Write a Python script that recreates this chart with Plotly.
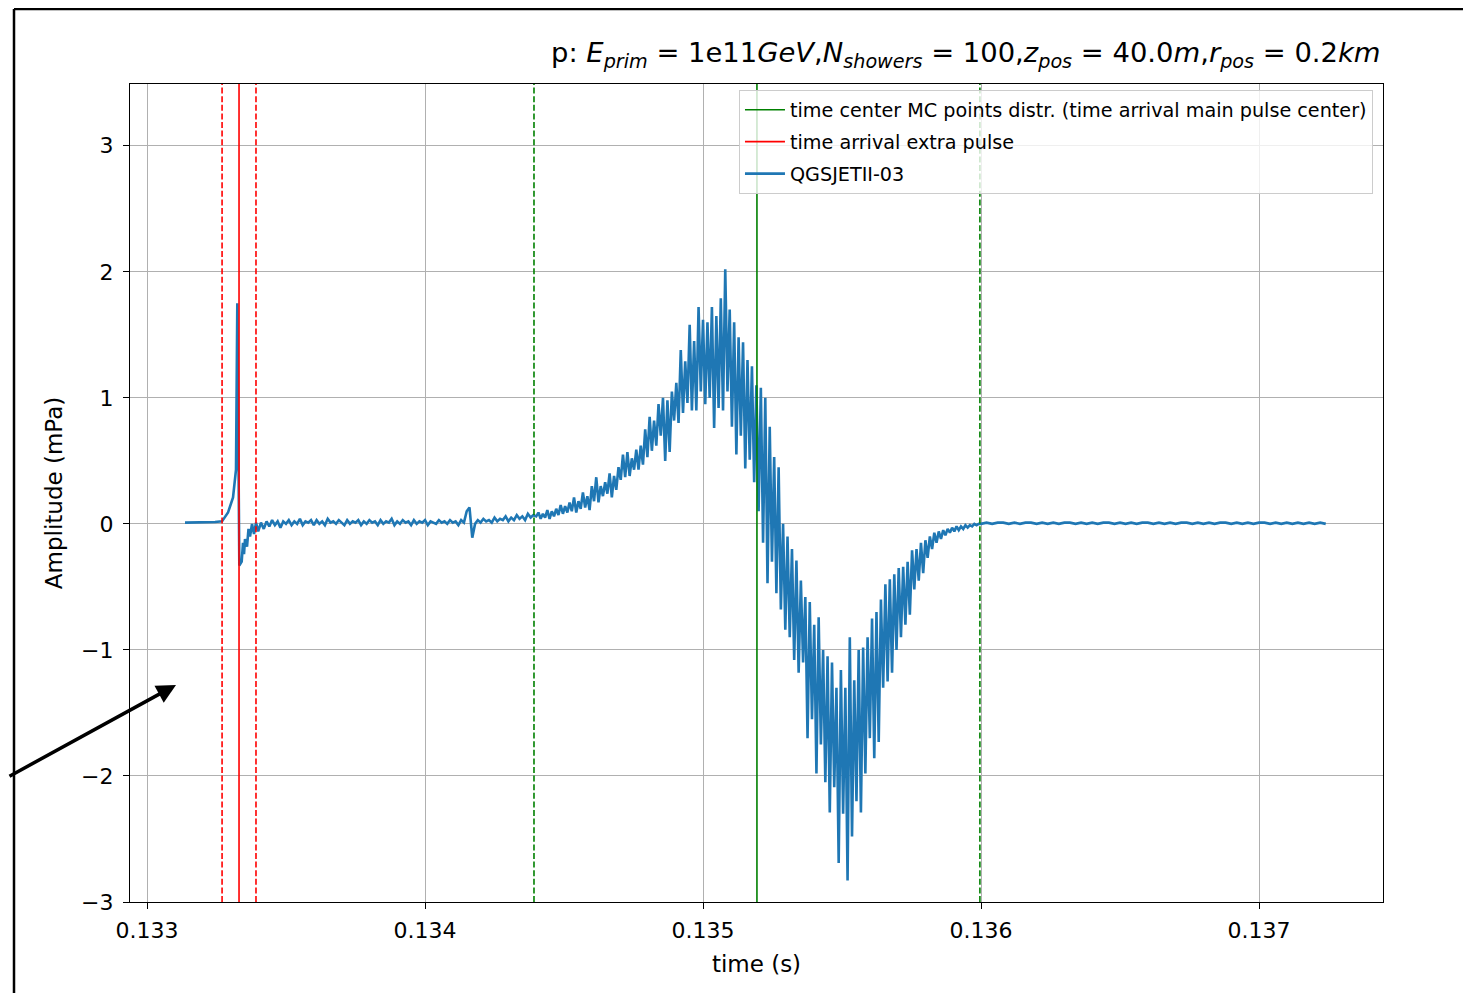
import numpy as np
import plotly.graph_objects as go

# ---------------- data ----------------
# extra pulse region: explicit samples (time in s, amplitude in mPa)
pre_times = [0.1331367, 0.1331906, 0.1332446, 0.1332698, 0.1332914, 0.1333094,
             0.1333201, 0.1333248, 0.1333291, 0.1333320, 0.1333406, 0.1333453,
             0.1333489, 0.1333525, 0.1333597, 0.1333651, 0.1333705, 0.1333777,
             0.1333849, 0.1333921]
pre_amp = [0.01, 0.01, 0.015, 0.02, 0.09, 0.21,
           0.43, 1.75, 0.60, -0.33, -0.30, -0.15,
           -0.24, -0.12, -0.18, -0.04, -0.10, 0.00,
           -0.08, 0.01]

# baseline segment (uniformly sampled)
base_t0 = 0.13340
base_dt = 0.00001
base_amp = [-0.06, 0.01, -0.04, 0.02, -0.02, 0.03, -0.01, 0.02, -0.03, 0.02,
            0.00, 0.03, -0.01, 0.02, 0.00, 0.04, -0.01, 0.02, 0.01, 0.03,
            -0.01, 0.03, 0.00, 0.02, -0.01, 0.04, 0.01, 0.02, 0.00, 0.03,
            0.01, -0.01, 0.03, 0.00, 0.02, 0.01, 0.03, -0.01, 0.02, 0.00,
            0.03, 0.01, 0.02, -0.01, 0.03, 0.00, 0.02, 0.01, 0.04, -0.01,
            0.02, 0.00, 0.03, 0.01, 0.02, -0.01, 0.03, 0.00, 0.02, 0.01,
            0.03, -0.01, 0.02, 0.01, 0.00, 0.03, 0.01, 0.02, 0.00, 0.03,
            0.01, 0.02, -0.01, 0.03, 0.01, 0.10, 0.13, -0.11, 0.00, 0.03,
            0.01, 0.04, 0.02, 0.03, 0.01, 0.05, 0.02, 0.04, 0.03, 0.06,
            0.02, 0.05, 0.03, 0.07, 0.04, 0.06, 0.03, 0.08, 0.05, 0.07]

# main pulse segment (uniformly sampled)
main_t0 = 0.13440
main_dt = 0.000008
main_amp = [0.06, 0.09, 0.04, 0.08, 0.05, 0.11, 0.04, 0.10, 0.06, 0.12,
            0.07, 0.15, 0.08, 0.14, 0.09, 0.17, 0.10, 0.21, 0.09, 0.18,
            0.12, 0.25, 0.13, 0.22, 0.11, 0.30, 0.18, 0.37, 0.17, 0.30,
            0.22, 0.33, 0.24, 0.40, 0.21, 0.38, 0.27, 0.45, 0.35, 0.55,
            0.37, 0.57, 0.38, 0.52, 0.43, 0.59, 0.43, 0.62, 0.47, 0.75,
            0.53, 0.85, 0.58, 0.82, 0.62, 0.95, 0.70, 1.00, 0.50, 0.98,
            0.57, 1.05, 0.82, 1.12, 0.80, 1.38, 0.88, 1.29, 0.96, 1.58,
            0.90, 1.45, 0.90, 1.72, 1.05, 1.62, 0.95, 1.60, 1.00, 1.72,
            0.76, 1.65, 0.92, 1.79, 0.90, 2.02, 1.05, 1.70, 0.77, 1.60,
            0.55, 1.48, 0.70, 1.44, 0.44, 1.30, 0.51, 1.25, 0.33, 1.10,
            0.10, 1.08, -0.15, 1.00, -0.47, 0.77, -0.30, 0.53, -0.55, 0.45,
            -0.68, 0.00, -0.84, -0.10, -0.90, -0.20, -1.08, -0.29, -1.18, -0.45,
            -1.10, -0.58, -1.70, -0.62, -1.55, -0.80, -1.98, -0.74, -1.75, -1.00,
            -2.05, -1.05, -2.29, -1.10, -2.09, -1.30, -2.69, -1.16, -2.30, -1.30,
            -2.83, -0.90, -2.48, -1.24, -2.20, -1.00, -2.29, -0.98, -1.98, -0.90,
            -1.70, -0.75, -1.86, -0.70, -1.73, -0.60, -1.30, -0.48, -1.25, -0.44,
            -1.18, -0.40, -1.00, -0.35, -0.90, -0.34, -0.80, -0.30, -0.72, -0.21,
            -0.52, -0.20, -0.45, -0.15, -0.39, -0.13, -0.27, -0.10, -0.20, -0.07,
            -0.15, -0.06, -0.12, -0.05, -0.09, -0.04, -0.07, -0.03, -0.06, -0.02,
            -0.05, -0.02, -0.04, -0.01, -0.03, -0.01, -0.02, 0.00, -0.01, 0.00]

# tail segment (uniformly sampled)
tail_t0 = 0.13600
tail_dt = 0.00002
tail_amp = [0.00, 0.01, 0.00, 0.01, 0.01, 0.00, 0.01, 0.00, 0.01, 0.01,
            0.00, 0.01, 0.00, 0.01, 0.00, 0.01, 0.01, 0.00, 0.01, 0.00,
            0.01, 0.00, 0.01, 0.01, 0.00, 0.01, 0.00, 0.01, 0.00, 0.01,
            0.01, 0.00, 0.01, 0.00, 0.01, 0.00, 0.01, 0.01, 0.00, 0.01,
            0.00, 0.01, 0.00, 0.01, 0.01, 0.00, 0.01, 0.00, 0.01, 0.00,
            0.01, 0.01, 0.00, 0.01, 0.00, 0.01, 0.00, 0.01, 0.00, 0.01,
            0.00, 0.01, 0.00]

# marker times (s)
extra_pulse_time = 0.133331
extra_pulse_window = [0.133270, 0.133392]
main_pulse_center = 0.135194
main_pulse_window = [0.134392, 0.135996]

x_ticks = [0.133, 0.134, 0.135, 0.136, 0.137]
x_ticklabels = ["0.133", "0.134", "0.135", "0.136", "0.137"]
y_ticks = [-3, -2, -1, 0, 1, 2, 3]
y_ticklabels = ["\u22123", "\u22122", "\u22121", "0", "1", "2", "3"]

series_name = "QGSJETII-03"
green_label = "time center MC points distr. (time arrival main pulse center)"
red_label = "time arrival extra pulse"

# ---------------- build ----------------
t_all = np.concatenate([
    np.array(pre_times),
    base_t0 + base_dt * np.arange(len(base_amp)),
    main_t0 + main_dt * np.arange(len(main_amp)),
    tail_t0 + tail_dt * np.arange(len(tail_amp)),
])
a_all = np.concatenate([pre_amp, base_amp, main_amp, tail_amp])

FONT = "DejaVu Sans"
BLUE = "#1f77b4"

fig = go.Figure()
fig.add_trace(go.Scatter(x=[None], y=[None], mode="lines", name=green_label, legendgroup="g1",
                         line=dict(color="green", width=1.6)))
fig.add_trace(go.Scatter(x=[None], y=[None], mode="lines", name=red_label, legendgroup="g2",
                         line=dict(color="red", width=1.6)))
fig.add_trace(go.Scatter(x=t_all, y=a_all, mode="lines", name=series_name, legendgroup="g3",
                         line=dict(color=BLUE, width=2.6)))

shapes = []
def vline(xv, color, dash):
    shapes.append(dict(type="line", xref="x", yref="paper", x0=xv, x1=xv, y0=0, y1=1,
                       line=dict(color=color, width=1.6, dash=dash), layer="above"))

vline(extra_pulse_time, "red", "solid")
for xv in extra_pulse_window:
    vline(xv, "red", "6px,2.6px")
vline(main_pulse_center, "green", "solid")
for xv in main_pulse_window:
    vline(xv, "green", "6px,2.6px")

# plot area in the screenshot: px 130..1383 horizontally, 84..902 vertically
def px(xp):
    return (xp - 130) / 1253.0
def py(yp):
    return (902 - yp) / 818.0

def pline(x0, y0, x1, y1, color="black", width=2.5, dash="solid"):
    shapes.append(dict(type="line", xref="paper", yref="paper", x0=x0, y0=y0, x1=x1, y1=y1,
                       line=dict(color=color, width=width, dash=dash), layer="above"))

# screenshot surroundings (frame lines)
pline(px(14), py(9), px(1475), py(9))
pline(px(14), py(9), px(14), py(998))
pline(px(398), py(-5), px(398), py(9), width=2)
pline(px(60), py(-5), px(60), py(5), color="green", width=2, dash="dot")

annotations = [
    dict(xref="paper", yref="paper", x=1.0, y=1.0, xanchor="right", yanchor="bottom", yshift=9,
         showarrow=False,
         text=("p: <i>E</i><sub><i>prim</i></sub> = 1e11<i>GeV</i>,<i>N</i><sub><i>showers</i></sub> = 100,"
               "<i>z</i><sub><i>pos</i></sub> = 40.0<i>m</i>,<i>r</i><sub><i>pos</i></sub> = 0.2<i>km</i>"),
         font=dict(family=FONT, size=27.4, color="black")),
    dict(xref="paper", yref="paper", x=px(176), y=py(685), ax=-184, ay=92, text="",
         showarrow=True, arrowhead=2, arrowsize=1.1, arrowwidth=3.5, arrowcolor="black"),
]

axis_common = dict(showline=True, linecolor="black", linewidth=1.3, mirror=True,
                   ticks="outside", ticklen=6, tickwidth=1.3, tickcolor="black",
                   showgrid=True, gridcolor="#b0b0b0", gridwidth=1.1, zeroline=False,
                   tickfont=dict(family=FONT, size=22, color="black"))

# page body has an 8px margin: figure sits at (8, 8)
fig.update_layout(
    width=1463, height=985,
    margin=dict(l=122, r=88, t=76, b=91),
    paper_bgcolor="white", plot_bgcolor="white",
    showlegend=True,
    legend=dict(x=0.992, y=0.993, xanchor="right", yanchor="top",
                traceorder="grouped", tracegroupgap=4, itemwidth=40,
                bgcolor="rgba(255,255,255,0.8)", bordercolor="#cccccc", borderwidth=1,
                font=dict(family=FONT, size=19.2, color="black")),
    xaxis=dict(range=[0.1329388, 0.137446], tickvals=x_ticks, ticktext=x_ticklabels,
               title=dict(text="time (s)", font=dict(family=FONT, size=23, color="black"), standoff=14),
               ticklabelstandoff=2,
               **axis_common),
    yaxis=dict(range=[-3, 3.49], tickvals=y_ticks, ticktext=y_ticklabels,
               title=dict(text="Amplitude (mPa)", font=dict(family=FONT, size=23, color="black"), standoff=11),
               ticklabelstandoff=5,
               **axis_common),
    shapes=shapes,
    annotations=annotations,
)

fig.write_html("out.html")
